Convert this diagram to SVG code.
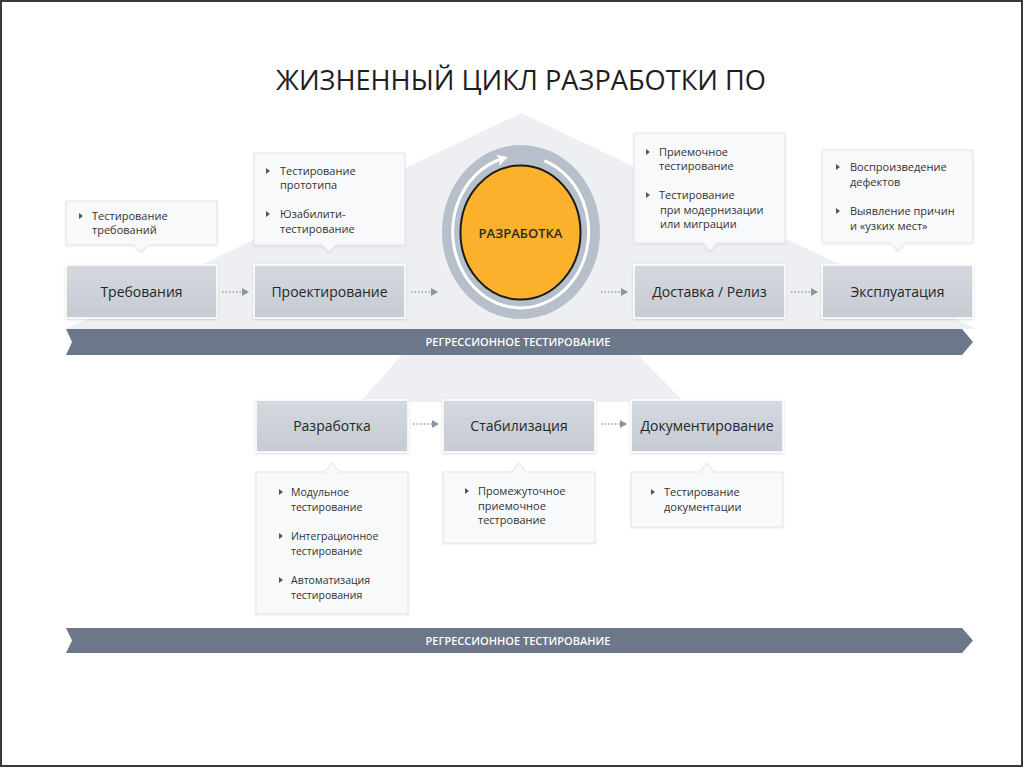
<svg xmlns="http://www.w3.org/2000/svg" width="1024" height="768" viewBox="0 0 1024 768">
  <defs>
    <style>
      .title{font-family:"Open Sans","Liberation Sans",sans-serif;font-size:28px;fill:#1e1e1e;text-anchor:middle}
      .box{fill:url(#boxg);stroke:#ffffff;stroke-width:1.5;filter:url(#sh)}
      .blabel{font-family:"Open Sans","Liberation Sans",sans-serif;font-size:14px;fill:#262626;text-anchor:middle}
      .call{fill:#f8f9fa;stroke:#e1e4e8;stroke-width:1;filter:url(#sh2)}
      .ct{font-family:"Open Sans","Liberation Sans",sans-serif;font-size:11px;fill:#333}
      .ct2{font-family:"Open Sans","Liberation Sans",sans-serif;font-size:10.5px;fill:#333}
      .bul{fill:#555}
      .bar{fill:#6c7789}
      .bart{font-family:"Open Sans","Liberation Sans",sans-serif;font-size:11px;font-weight:600;fill:#ffffff;text-anchor:middle}
      .dot{stroke:#9aa2ae;stroke-width:1.5;stroke-dasharray:1.5 2;fill:none;marker-end:url(#ah)}
      .bg{fill:#edeff2}
    </style>
    <linearGradient id="boxg" x1="0" y1="0" x2="0" y2="1">
      <stop offset="0" stop-color="#d4d8df"/>
      <stop offset="1" stop-color="#c6cbd4"/>
    </linearGradient>
    <filter id="sh" x="-10%" y="-20%" width="120%" height="140%">
      <feDropShadow dx="0" dy="1" stdDeviation="1.2" flood-color="#000" flood-opacity="0.18"/>
    </filter>
    <filter id="sh2" x="-10%" y="-20%" width="120%" height="140%">
      <feDropShadow dx="0" dy="1" stdDeviation="1" flood-color="#000" flood-opacity="0.08"/>
    </filter>
    <marker id="ah" viewBox="0 0 8 8" refX="6" refY="4" markerWidth="8" markerHeight="8" markerUnits="userSpaceOnUse" orient="auto">
      <path d="M0,0 L7,4 L0,8 Z" fill="#8a93a0"/>
    </marker>
    <marker id="wah" viewBox="0 0 10 10" refX="4" refY="5" markerWidth="12" markerHeight="12" markerUnits="userSpaceOnUse" orient="auto">
      <path d="M0,0 L9,5 L0,10 L2.5,5 Z" fill="#ffffff"/>
    </marker>
  </defs>

  <rect x="0" y="0" width="1024" height="768" fill="#ffffff"/>

  <!-- background shapes -->
  <polygon class="bg" points="521,113 976,329 66,329"/>
  <polygon class="bg" points="402,355 638,355 684,402 360,402"/>

  <text class="title" x="521" y="90" textLength="490" lengthAdjust="spacingAndGlyphs">ЖИЗНЕННЫЙ ЦИКЛ РАЗРАБОТКИ ПО</text>

  <!-- connectors -->
  <g id="connectors">
    <line class="dot" x1="222" y1="292" x2="248" y2="292"/>
    <line class="dot" x1="411" y1="292" x2="437" y2="292"/>
    <line class="dot" x1="601" y1="292" x2="627" y2="292"/>
    <line class="dot" x1="791" y1="292" x2="817" y2="292"/>
    <line class="dot" x1="413" y1="424" x2="438" y2="424"/>
    <line class="dot" x1="601" y1="424" x2="626" y2="424"/>
  </g>

  <!-- regression bars -->
  <g id="regression-1">
    <polygon class="bar" points="66,329 962,329 973,342 962,355 66,355 72,342"/>
    <text class="bart" x="518" y="346" textLength="185" lengthAdjust="spacingAndGlyphs">РЕГРЕССИОННОЕ ТЕСТИРОВАНИЕ</text>
  </g>
  <g id="regression-2">
    <polygon class="bar" points="66,628 962,628 973,640.5 962,653 66,653 72,640.5"/>
    <text class="bart" x="518" y="644.5" textLength="185" lengthAdjust="spacingAndGlyphs">РЕГРЕССИОННОЕ ТЕСТИРОВАНИЕ</text>
  </g>

  <!-- Top row -->
  <g id="requirements">
    <path class="call" d="M66,201 H217 V245 H148 L141,252 L134,245 H66 Z"/>
    <path class="bul" d="M79,213 L83,216 L79,219 Z"/>
    <text class="ct" x="92" y="220">Тестирование</text>
    <text class="ct" x="92" y="234">требований</text>
    <rect class="box" x="66" y="265" width="151" height="53"/>
    <text class="blabel" x="141.5" y="296.5">Требования</text>
  </g>

  <g id="design">
    <path class="call" d="M254,153 H405 V245 H336 L329,252 L322,245 H254 Z"/>
    <path class="bul" d="M266,168 L270,171 L266,174 Z"/>
    <text class="ct" x="280" y="175">Тестирование</text>
    <text class="ct" x="280" y="189">прототипа</text>
    <path class="bul" d="M266,211 L270,214 L266,217 Z"/>
    <text class="ct" x="280" y="218">Юзабилити-</text>
    <text class="ct" x="280" y="233">тестирование</text>
    <rect class="box" x="254" y="265" width="151" height="53"/>
    <text class="blabel" x="329.5" y="296.5">Проектирование</text>
  </g>

  <g id="development-core">
    <ellipse cx="521" cy="232" rx="79" ry="87" fill="#b7bfcb"/>
    <path d="M544.3,160.6 A68,76 0 1 1 502,158.8" fill="none" stroke="#ffffff" stroke-width="3" marker-end="url(#wah)"/>
    <ellipse cx="520.5" cy="232.5" rx="60" ry="67" fill="#fbb12b" stroke="#1a1a1a" stroke-width="2"/>
    <text x="520.5" y="238" font-family="'Open Sans','Liberation Sans',sans-serif" font-size="13" font-weight="600" fill="#2a2a2a" text-anchor="middle">РАЗРАБОТКА</text>
  </g>

  <g id="release">
    <path class="call" d="M634,133 H785 V243 H717 L710,251 L703,243 H634 Z"/>
    <path class="bul" d="M646,149 L650,152 L646,155 Z"/>
    <text class="ct" x="659" y="156">Приемочное</text>
    <text class="ct" x="659" y="170">тестирование</text>
    <path class="bul" d="M646,192 L650,195 L646,198 Z"/>
    <text class="ct" x="659" y="199">Тестирование</text>
    <text class="ct" x="660" y="214">при модернизации</text>
    <text class="ct" x="660" y="228">или миграции</text>
    <rect class="box" x="634" y="265" width="151" height="53"/>
    <text class="blabel" x="709.5" y="296.5">Доставка / Релиз</text>
  </g>

  <g id="operation">
    <path class="call" d="M822,150 H973 V243 H905 L898,251 L891,243 H822 Z"/>
    <path class="bul" d="M836,164 L840,167 L836,170 Z"/>
    <text class="ct" x="850" y="171">Воспроизведение</text>
    <text class="ct" x="850" y="186">дефектов</text>
    <path class="bul" d="M836,208 L840,211 L836,214 Z"/>
    <text class="ct" x="850" y="215">Выявление причин</text>
    <text class="ct" x="850" y="230">и «узких мест»</text>
    <rect class="box" x="822" y="265" width="151" height="53"/>
    <text class="blabel" x="897.5" y="296.5">Эксплуатация</text>
  </g>

  <!-- Lower row -->
  <g id="development">
    <rect class="box" x="256" y="400" width="152" height="52"/>
    <text class="blabel" x="332" y="430.5">Разработка</text>
    <path class="call" d="M256,472 H325 L332,463 L339,472 H408 V614 H256 Z"/>
    <path class="bul" d="M279,489 L283,492 L279,495 Z"/>
    <text class="ct2" x="291" y="496">Модульное</text>
    <text class="ct2" x="291" y="511">тестирование</text>
    <path class="bul" d="M279,533 L283,536 L279,539 Z"/>
    <text class="ct2" x="291" y="540">Интеграционное</text>
    <text class="ct2" x="291" y="555">тестирование</text>
    <path class="bul" d="M279,577 L283,580 L279,583 Z"/>
    <text class="ct2" x="291" y="584">Автоматизация</text>
    <text class="ct2" x="291" y="599">тестирования</text>
  </g>

  <g id="stabilization">
    <rect class="box" x="443" y="400" width="152" height="52"/>
    <text class="blabel" x="519" y="430.5">Стабилизация</text>
    <path class="call" d="M443,472 H512 L519,463 L526,472 H595 V543 H443 Z"/>
    <path class="bul" d="M465,488 L469,491 L465,494 Z"/>
    <text class="ct" x="478" y="495">Промежуточное</text>
    <text class="ct" x="478" y="510">приемочное</text>
    <text class="ct" x="478" y="524">тестрование</text>
  </g>

  <g id="documentation">
    <rect class="box" x="631" y="400" width="152" height="52"/>
    <text class="blabel" x="707" y="430.5">Документирование</text>
    <path class="call" d="M631,472 H700 L707,463 L714,472 H783 V527 H631 Z"/>
    <path class="bul" d="M651,489 L655,492 L651,495 Z"/>
    <text class="ct" x="664" y="496">Тестирование</text>
    <text class="ct" x="664" y="511">документации</text>
  </g>

  <rect x="1" y="1" width="1021" height="765" fill="none" stroke="#3a3a3a" stroke-width="2"/>
</svg>
